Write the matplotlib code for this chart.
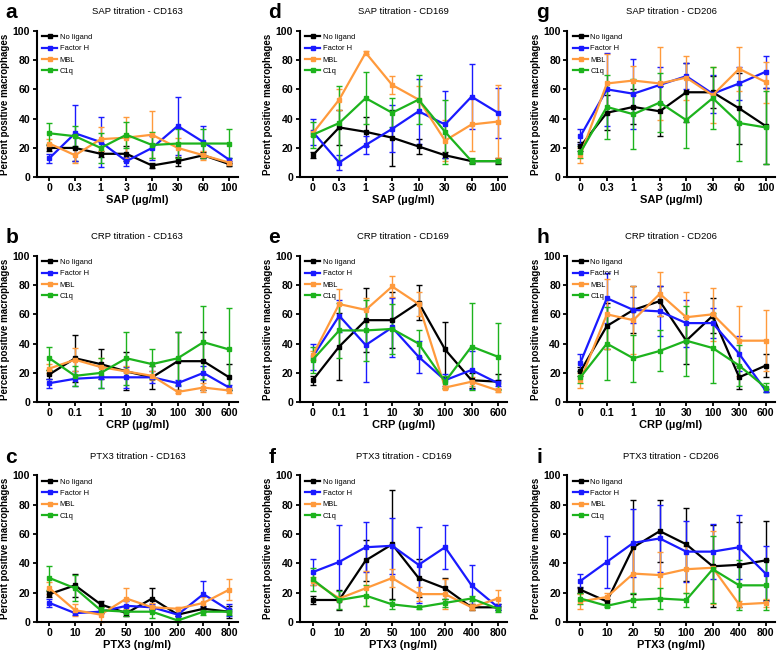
import matplotlib
matplotlib.use('Agg')
from matplotlib import pyplot

pyplot.rcParams['font.family'] = ['Liberation Sans', 'DejaVu Sans']

# x tick labels
sap_x = ['0', '0.3', '1', '3', '10', '30', '60', '100']
crp_x = ['0', '0.1', '1', '10', '30', '100', '300', '600']
ptx_x = ['0', '10', '20', '50', '100', '200', '400', '800']

series_names = ['No ligand', 'Factor H', 'MBL', 'C1q']

# panel a: SAP - CD163
a_mean = [[20, 20, 16, 16, 8, 11, 15, 9],
          [13, 30, 24, 11, 20, 35, 24, 12],
          [23, 15, 26, 27, 29, 20, 15, 10],
          [30, 28, 20, 29, 22, 23, 23, 23]]
a_err = [[2, 9, 2, 5, 2, 3, 2, 1],
         [3, 19, 17, 3, 8, 20, 11, 1],
         [3, 5, 8, 14, 16, 7, 3, 1],
         [7, 7, 10, 9, 9, 10, 10, 10]]

# panel d: SAP - CD169
d_mean = [[15, 34, 31, 27, 21, 15, 11, 11],
          [31, 10, 22, 33, 45, 36, 55, 44],
          [30, 53, 85, 63, 53, 25, 36, 38],
          [29, 37, 54, 44, 53, 31, 11, 11]]
d_err = [[2, 12, 10, 19, 5, 2, 1, 2],
         [9, 5, 6, 16, 22, 23, 22, 17],
         [2, 7, 1, 6, 9, 14, 18, 25],
         [9, 25, 18, 10, 17, 22, 2, 1]]

# panel g: SAP - CD206
g_mean = [[21, 44, 48, 45, 58, 58, 47, 35],
          [28, 60, 57, 63, 69, 57, 64, 72],
          [15, 64, 66, 64, 68, 56, 74, 65],
          [17, 48, 43, 51, 39, 54, 37, 34]]
g_err = [[3, 12, 12, 17, 20, 11, 24, 26],
         [5, 25, 24, 12, 9, 13, 11, 11],
         [5, 20, 10, 25, 15, 19, 15, 14],
         [4, 22, 24, 20, 19, 21, 26, 25]]

# panel b: CRP - CD163
b_mean = [[19, 30, 26, 21, 17, 28, 28, 17],
          [13, 16, 17, 17, 17, 13, 20, 10],
          [23, 29, 24, 21, 18, 7, 10, 8],
          [30, 18, 20, 30, 26, 30, 41, 36]]
b_err = [[3, 16, 10, 13, 8, 20, 20, 9],
         [3, 5, 7, 7, 4, 2, 5, 2],
         [3, 8, 6, 4, 3, 1, 3, 2],
         [8, 7, 10, 18, 10, 18, 25, 28]]

# panel e: CRP - CD169
e_mean = [[15, 38, 56, 56, 68, 36, 15, 14],
          [31, 59, 39, 51, 31, 15, 22, 13],
          [32, 67, 63, 79, 67, 10, 14, 8],
          [29, 49, 49, 50, 40, 14, 38, 31]]
e_err = [[3, 23, 22, 19, 12, 19, 5, 5],
         [9, 11, 25, 20, 11, 4, 13, 2],
         [3, 10, 8, 7, 8, 1, 3, 1],
         [9, 19, 21, 17, 9, 4, 30, 23]]

# panel h: CRP - CD206
h_mean = [[21, 52, 63, 69, 42, 59, 17, 25],
          [27, 71, 63, 62, 54, 54, 33, 8],
          [15, 60, 56, 74, 58, 60, 42, 42],
          [17, 40, 30, 35, 42, 37, 25, 10]]
h_err = [[3, 16, 16, 10, 16, 12, 8, 8],
         [6, 17, 9, 17, 16, 10, 12, 1],
         [5, 24, 23, 15, 17, 18, 24, 21],
         [4, 25, 16, 14, 24, 24, 14, 3]]

# panel c: PTX3 - CD163
c_mean = [[19, 25, 12, 6, 16, 5, 9, 7],
          [13, 6, 7, 11, 10, 5, 19, 8],
          [23, 8, 5, 16, 10, 9, 13, 22],
          [30, 23, 8, 7, 7, 1, 7, 7]]
c_err = [[2, 8, 2, 2, 7, 1, 2, 4],
         [3, 1, 1, 3, 2, 1, 9, 4],
         [4, 4, 5, 7, 3, 1, 4, 7],
         [8, 9, 2, 3, 4, 1, 2, 2]]

# panel f: PTX3 - CD169
f_mean = [[15, 15, 42, 53, 30, 23, 10, 10],
          [34, 41, 51, 52, 39, 51, 25, 10],
          [28, 16, 23, 30, 19, 19, 10, 16],
          [29, 15, 18, 12, 10, 13, 16, 9]]
f_err = [[3, 7, 14, 37, 13, 7, 2, 2],
         [9, 25, 17, 19, 26, 15, 14, 2],
         [3, 2, 12, 6, 5, 10, 2, 6],
         [8, 6, 7, 3, 1, 3, 2, 2]]

# panel i: PTX3 - CD206
i_mean = [[22, 14, 51, 62, 53, 38, 39, 42],
          [28, 41, 54, 57, 48, 48, 51, 33],
          [14, 17, 33, 32, 36, 37, 12, 13],
          [16, 11, 15, 16, 15, 36, 25, 25]]
i_err = [[2, 2, 32, 21, 25, 28, 29, 27],
         [5, 18, 23, 23, 21, 19, 22, 19],
         [5, 3, 18, 16, 16, 25, 2, 3],
         [4, 1, 5, 7, 5, 23, 17, 17]]

colors = ['black', '#1a1aff', '#ff9a3c', '#1db31d']


def _plot_panel(fig, rect, letter, title, xlabels, xlabel, means, errs):
    ax = fig.add_axes(rect)
    xs = list(range(len(xlabels)))
    for name, m, e, c in zip(series_names, means, errs, colors):
        ax.errorbar(xs, m, yerr=e, color=c, linewidth=1.6, marker='s', markersize=3.2,
                    elinewidth=1.0, capsize=2.2, capthick=1.0, clip_on=False)
        # legend proxy: line + marker only
        ax.plot([], [], color=c, linewidth=1.6, marker='s', markersize=3.2, label=name)

    ax.set_xlim(-0.5, 7.35)
    ax.set_ylim(0, 100)
    ax.set_yticks([0, 20, 40, 60, 80, 100])
    ax.set_xticks(xs)
    ax.set_xticklabels(xlabels)
    for s in ['top', 'right']:
        ax.spines[s].set_visible(False)
    for s in ['left', 'bottom']:
        ax.spines[s].set_linewidth(1.5)
    ax.tick_params(width=1.3, length=3, labelsize=7.6, pad=1.5)
    for lab in ax.get_xticklabels() + ax.get_yticklabels():
        lab.set_fontweight('bold')

    ax.set_xlabel(xlabel, fontsize=8, fontweight='bold', labelpad=1)
    ax.set_ylabel('Percent positive macrophages', fontsize=7.0, fontweight='bold', labelpad=2)
    ax.set_title(title, fontsize=6.8, pad=12)

    ax.legend(loc='upper left', fontsize=5.4, frameon=False, handlelength=2.0,
              borderaxespad=0, borderpad=0.1, labelspacing=0.55, handletextpad=0.3,
              bbox_to_anchor=(0.025, 0.985))

    fig.text(rect[0] - 0.04, rect[1] + rect[3] + 0.028, letter, fontsize=15, fontweight='bold',
             va='center', ha='left')
    return ax


fig = pyplot.figure(figsize=(7.78, 6.54), dpi=100)

lefts = [0.047, 0.385, 0.729]
bottoms = [0.729, 0.385, 0.049]
widths = [0.259, 0.267, 0.267]
height = 0.224

panels = [
    (0, 0, 'a', 'SAP titration - CD163', sap_x, 'SAP (µg/ml)', a_mean, a_err),
    (0, 1, 'd', 'SAP titration - CD169', sap_x, 'SAP (µg/ml)', d_mean, d_err),
    (0, 2, 'g', 'SAP titration - CD206', sap_x, 'SAP (µg/ml)', g_mean, g_err),
    (1, 0, 'b', 'CRP titration - CD163', crp_x, 'CRP (µg/ml)', b_mean, b_err),
    (1, 1, 'e', 'CRP titration - CD169', crp_x, 'CRP (µg/ml)', e_mean, e_err),
    (1, 2, 'h', 'CRP titration - CD206', crp_x, 'CRP (µg/ml)', h_mean, h_err),
    (2, 0, 'c', 'PTX3 titration - CD163', ptx_x, 'PTX3 (ng/ml)', c_mean, c_err),
    (2, 1, 'f', 'PTX3 titration - CD169', ptx_x, 'PTX3 (ng/ml)', f_mean, f_err),
    (2, 2, 'i', 'PTX3 titration - CD206', ptx_x, 'PTX3 (ng/ml)', i_mean, i_err),
]

for row, col, letter, title, xl, xlab, m, e in panels:
    rect = [lefts[col], bottoms[row], widths[col], height]
    _plot_panel(fig, rect, letter, title, xl, xlab, m, e)

fig.savefig('out.png', dpi=100)
